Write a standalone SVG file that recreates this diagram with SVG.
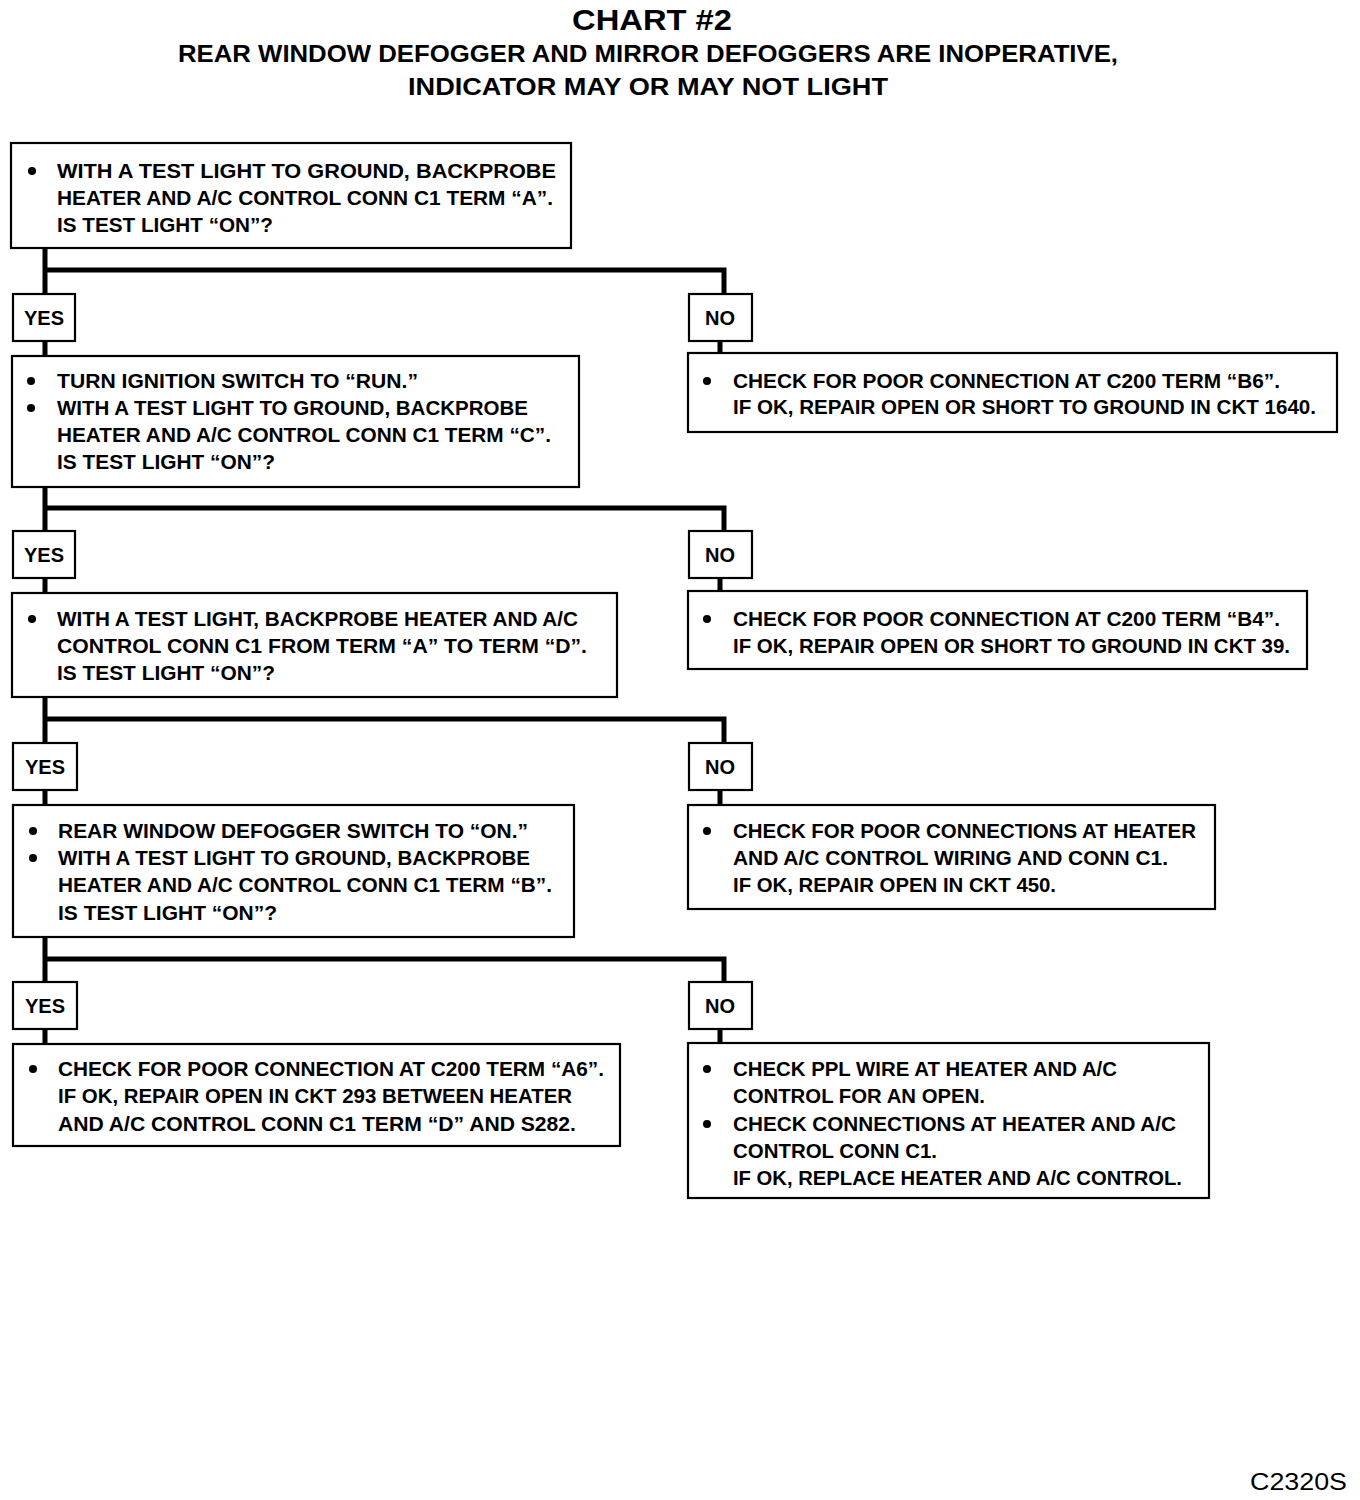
<svg xmlns="http://www.w3.org/2000/svg" width="1360" height="1500" viewBox="0 0 1360 1500">
<style>
.box{fill:#fff;stroke:#000;stroke-width:2.2}
.lbl{fill:#fff;stroke:#000;stroke-width:2.2}
.t{font-family:"Liberation Sans",Arial,sans-serif;font-weight:bold;font-size:20px;fill:#000}
.c{font-family:"Liberation Sans",Arial,sans-serif;font-weight:bold;font-size:20px;fill:#000;text-anchor:middle}
.h{font-family:"Liberation Sans",Arial,sans-serif;font-weight:bold;fill:#000;text-anchor:middle}
.wire{fill:none;stroke:#000;stroke-width:5}
.dot{fill:#000}
</style>
<rect width="1360" height="1500" fill="#fff"/>
<g id="title">
<text class="h" x="652" y="30" font-size="30" textLength="160" lengthAdjust="spacingAndGlyphs">CHART #2</text>
<text class="h" x="648" y="62" font-size="24" textLength="940" lengthAdjust="spacingAndGlyphs">REAR WINDOW DEFOGGER AND MIRROR DEFOGGERS ARE INOPERATIVE,</text>
<text class="h" x="648" y="95" font-size="24" textLength="480" lengthAdjust="spacingAndGlyphs">INDICATOR MAY OR MAY NOT LIGHT</text>
</g>
<g id="connectors">
<path class="wire" d="M45 248 V294 M45 270 H724 V294 M45 341 V356 M720 341 V353"/>
<path class="wire" d="M45 487 V531 M45 508 H724 V531 M45 578 V593 M720 578 V591"/>
<path class="wire" d="M45 697 V743 M45 719 H724 V743 M45 790 V805 M720 790 V805"/>
<path class="wire" d="M45 937 V982 M45 959 H724 V982 M45 1029 V1044 M720 1029 V1043"/>
</g>
<g id="q1">
<rect class="box" x="11" y="143" width="560" height="105"/>
<circle class="dot" cx="32" cy="171" r="4"/>
<text class="t" x="57" y="178" textLength="499" lengthAdjust="spacingAndGlyphs">WITH A TEST LIGHT TO GROUND, BACKPROBE</text>
<text class="t" x="57" y="205" textLength="496" lengthAdjust="spacingAndGlyphs">HEATER AND A/C CONTROL CONN C1 TERM “A”.</text>
<text class="t" x="57" y="232" textLength="216" lengthAdjust="spacingAndGlyphs">IS TEST LIGHT “ON”?</text>
</g>
<g id="yes1"><rect class="lbl" x="13" y="294" width="62" height="47"/><text class="c" x="44" y="325">YES</text></g>
<g id="no1"><rect class="lbl" x="689" y="294" width="63" height="47"/><text class="c" x="720" y="325">NO</text></g>
<g id="q2">
<rect class="box" x="12" y="356" width="567" height="131"/>
<circle class="dot" cx="31" cy="381" r="4"/>
<circle class="dot" cx="31" cy="408" r="4"/>
<text class="t" x="57" y="388" textLength="361" lengthAdjust="spacingAndGlyphs">TURN IGNITION SWITCH TO “RUN.”</text>
<text class="t" x="57" y="415" textLength="471" lengthAdjust="spacingAndGlyphs">WITH A TEST LIGHT TO GROUND, BACKPROBE</text>
<text class="t" x="57" y="442" textLength="494" lengthAdjust="spacingAndGlyphs">HEATER AND A/C CONTROL CONN C1 TERM “C”.</text>
<text class="t" x="57" y="469" textLength="218" lengthAdjust="spacingAndGlyphs">IS TEST LIGHT “ON”?</text>
</g>
<g id="r1">
<rect class="box" x="688" y="353" width="649" height="79"/>
<circle class="dot" cx="707" cy="381" r="4"/>
<text class="t" x="733" y="388" textLength="547" lengthAdjust="spacingAndGlyphs">CHECK FOR POOR CONNECTION AT C200 TERM “B6”.</text>
<text class="t" x="733" y="414" textLength="583" lengthAdjust="spacingAndGlyphs">IF OK, REPAIR OPEN OR SHORT TO GROUND IN CKT 1640.</text>
</g>
<g id="yes2"><rect class="lbl" x="13" y="531" width="62" height="47"/><text class="c" x="44" y="562">YES</text></g>
<g id="no2"><rect class="lbl" x="689" y="531" width="63" height="47"/><text class="c" x="720" y="562">NO</text></g>
<g id="q3">
<rect class="box" x="12" y="593" width="605" height="104"/>
<circle class="dot" cx="32" cy="619" r="4"/>
<text class="t" x="57" y="626" textLength="521" lengthAdjust="spacingAndGlyphs">WITH A TEST LIGHT, BACKPROBE HEATER AND A/C</text>
<text class="t" x="57" y="653" textLength="530" lengthAdjust="spacingAndGlyphs">CONTROL CONN C1 FROM TERM “A” TO TERM “D”.</text>
<text class="t" x="57" y="680" textLength="218" lengthAdjust="spacingAndGlyphs">IS TEST LIGHT “ON”?</text>
</g>
<g id="r2">
<rect class="box" x="688" y="591" width="619" height="78"/>
<circle class="dot" cx="707" cy="619" r="4"/>
<text class="t" x="733" y="626" textLength="547" lengthAdjust="spacingAndGlyphs">CHECK FOR POOR CONNECTION AT C200 TERM “B4”.</text>
<text class="t" x="733" y="653" textLength="557" lengthAdjust="spacingAndGlyphs">IF OK, REPAIR OPEN OR SHORT TO GROUND IN CKT 39.</text>
</g>
<g id="yes3"><rect class="lbl" x="13" y="743" width="64" height="47"/><text class="c" x="45" y="774">YES</text></g>
<g id="no3"><rect class="lbl" x="689" y="743" width="63" height="47"/><text class="c" x="720" y="774">NO</text></g>
<g id="q4">
<rect class="box" x="13" y="805" width="561" height="132"/>
<circle class="dot" cx="33" cy="831" r="4"/>
<circle class="dot" cx="33" cy="858" r="4"/>
<text class="t" x="58" y="838" textLength="470" lengthAdjust="spacingAndGlyphs">REAR WINDOW DEFOGGER SWITCH TO “ON.”</text>
<text class="t" x="58" y="865" textLength="472" lengthAdjust="spacingAndGlyphs">WITH A TEST LIGHT TO GROUND, BACKPROBE</text>
<text class="t" x="58" y="892" textLength="494" lengthAdjust="spacingAndGlyphs">HEATER AND A/C CONTROL CONN C1 TERM “B”.</text>
<text class="t" x="58" y="920" textLength="219" lengthAdjust="spacingAndGlyphs">IS TEST LIGHT “ON”?</text>
</g>
<g id="r3">
<rect class="box" x="688" y="805" width="527" height="104"/>
<circle class="dot" cx="707" cy="831" r="4"/>
<text class="t" x="733" y="838" textLength="463" lengthAdjust="spacingAndGlyphs">CHECK FOR POOR CONNECTIONS AT HEATER</text>
<text class="t" x="733" y="865" textLength="435" lengthAdjust="spacingAndGlyphs">AND A/C CONTROL WIRING AND CONN C1.</text>
<text class="t" x="733" y="892" textLength="323" lengthAdjust="spacingAndGlyphs">IF OK, REPAIR OPEN IN CKT 450.</text>
</g>
<g id="yes4"><rect class="lbl" x="13" y="982" width="64" height="47"/><text class="c" x="45" y="1013">YES</text></g>
<g id="no4"><rect class="lbl" x="689" y="982" width="63" height="47"/><text class="c" x="720" y="1013">NO</text></g>
<g id="r4">
<rect class="box" x="13" y="1044" width="607" height="102"/>
<circle class="dot" cx="33" cy="1069" r="4"/>
<text class="t" x="58" y="1076" textLength="546" lengthAdjust="spacingAndGlyphs">CHECK FOR POOR CONNECTION AT C200 TERM “A6”.</text>
<text class="t" x="58" y="1103" textLength="514" lengthAdjust="spacingAndGlyphs">IF OK, REPAIR OPEN IN CKT 293 BETWEEN HEATER</text>
<text class="t" x="58" y="1131" textLength="518" lengthAdjust="spacingAndGlyphs">AND A/C CONTROL CONN C1 TERM “D” AND S282.</text>
</g>
<g id="r5">
<rect class="box" x="688" y="1043" width="521" height="155"/>
<circle class="dot" cx="707" cy="1069" r="4"/>
<circle class="dot" cx="707" cy="1124" r="4"/>
<text class="t" x="733" y="1076" textLength="384" lengthAdjust="spacingAndGlyphs">CHECK PPL WIRE AT HEATER AND A/C</text>
<text class="t" x="733" y="1103" textLength="252" lengthAdjust="spacingAndGlyphs">CONTROL FOR AN OPEN.</text>
<text class="t" x="733" y="1131" textLength="443" lengthAdjust="spacingAndGlyphs">CHECK CONNECTIONS AT HEATER AND A/C</text>
<text class="t" x="733" y="1158" textLength="204" lengthAdjust="spacingAndGlyphs">CONTROL CONN C1.</text>
<text class="t" x="733" y="1185" textLength="449" lengthAdjust="spacingAndGlyphs">IF OK, REPLACE HEATER AND A/C CONTROL.</text>
</g>
<g id="code">
<text x="1250" y="1490" font-family="Liberation Sans, Arial, sans-serif" font-size="24" textLength="97" lengthAdjust="spacingAndGlyphs">C2320S</text>
</g>
</svg>
